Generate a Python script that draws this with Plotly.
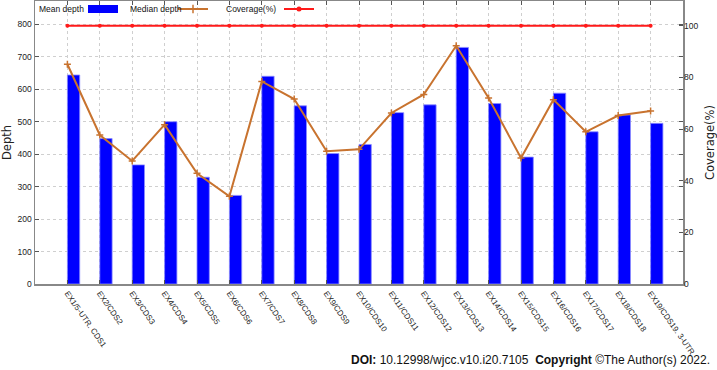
import plotly.graph_objects as go

categories = ["EX1/5-UTR. CDS1", "EX2/CDS2", "EX3/CDS3", "EX4/CDS4", "EX5/CDS5", "EX6/CDS6",
              "EX7/CDS7", "EX8/CDS8", "EX9/CDS9", "EX10/CDS10", "EX11/CDS11", "EX12/CDS12",
              "EX13/CDS13", "EX14/CDS14", "EX15/CDS15", "EX16/CDS16", "EX17/CDS17",
              "EX18/CDS18", "EX19/CDS19. 3-UTR"]
mean_depth = [644, 448, 367, 500, 329, 273, 640, 549, 402, 430, 528, 552, 729, 556, 391, 588, 469, 521, 495]
median_depth = [677, 459, 379, 491, 341, 270, 624, 570, 409, 415, 527, 584, 734, 573, 388, 568, 469, 519, 533]
coverage = [100] * 19
series_names = ["Mean depth", "Median depth", "Coverage(%)"]

idx = list(range(len(categories)))
FONT = "Liberation Sans"
TFONT = "DejaVu Sans"
BLUE, ORANGE, RED = "#0000ff", "#c8732f", "#ff1a1a"

W, H = 717, 370
L, R, T, B = 35, 34, 1, 86
PW, PH = W - L - R, H - T - B


def px_x(p):
    return (p - L) / PW


def px_y(p):
    return (H - B - p) / PH


fig = go.Figure()
fig.add_trace(go.Bar(x=idx, y=mean_depth, name=series_names[0], width=0.38, offset=0,
                     showlegend=False,
                     marker=dict(color=BLUE, line=dict(color="#8c8cff", width=0.8))))
fig.add_trace(go.Scatter(x=idx, y=median_depth, name=series_names[1], mode="lines+markers",
                         showlegend=False,
                         line=dict(color=ORANGE, width=2),
                         marker=dict(symbol="cross-thin", size=5, color=ORANGE,
                                     line=dict(color=ORANGE, width=1.5))))
fig.add_trace(go.Scatter(x=idx, y=coverage, name=series_names[2], mode="lines+markers", yaxis="y2",
                         showlegend=False,
                         line=dict(color=RED, width=2),
                         marker=dict(symbol="circle", size=4, color=RED)))

# legend keys (symbol only; labels drawn as text to the left of each key, as in the original)
fig.add_trace(go.Scatter(x=[None], y=[None], mode="lines", name="", legend="legend",
                         line=dict(color=BLUE, width=8), showlegend=True))
fig.add_trace(go.Scatter(x=[None], y=[None], mode="lines+markers", name="", legend="legend2",
                         line=dict(color=ORANGE, width=2),
                         marker=dict(symbol="cross-thin", size=6, color=ORANGE,
                                     line=dict(color=ORANGE, width=1.5)), showlegend=True))
fig.add_trace(go.Scatter(x=[None], y=[None], mode="lines+markers", name="", legend="legend3",
                         line=dict(color=RED, width=2),
                         marker=dict(symbol="circle", size=5, color=RED), showlegend=True))

leg_common = dict(orientation="h", xanchor="left", yanchor="middle", bgcolor="rgba(0,0,0,0)",
                  font=dict(size=9, family=FONT), itemwidth=30)
key_x = [83, 173, 279]
label_x = [37, 128, 224]
LEG_Y = 9

annotations = []
for name, lx in zip(series_names, label_x):
    annotations.append(dict(text=name, xref="paper", yref="paper", x=px_x(lx), y=px_y(LEG_Y),
                            xanchor="left", yanchor="middle", showarrow=False,
                            font=dict(size=8.5, family=FONT, color="#111")))
annotations.append(dict(text="<b>DOI:</b> 10.12998/wjcc.v10.i20.7105  <b>Copyright</b> ©The Author(s) 2022.",
                        xref="paper", yref="paper", x=px_x(712), y=px_y(360),
                        xanchor="right", yanchor="middle", showarrow=False,
                        font=dict(size=12, family="Liberation Sans", color="#111")))

fig.update_layout(
    width=W, height=H,
    margin=dict(l=L, r=R, t=T, b=B, autoexpand=False),
    plot_bgcolor="white", paper_bgcolor="white",
    font=dict(family=FONT, size=8, color="#222"),
    showlegend=True, hovermode=False,
    legend=dict(x=px_x(key_x[0]), y=px_y(LEG_Y), **leg_common),
    legend2=dict(x=px_x(key_x[1]), y=px_y(LEG_Y), **leg_common),
    legend3=dict(x=px_x(key_x[2]), y=px_y(LEG_Y), **leg_common),
    xaxis=dict(range=[-1, 19], tickmode="array", tickvals=idx, ticktext=categories,
               tickangle=55, ticks="inside", ticklen=4, tickcolor="#555", automargin=False,
               showline=True, linecolor="#888", linewidth=1.5, mirror="ticks",
               showgrid=True, gridcolor="#cfcfcf", griddash="dot", gridwidth=1,
               tickfont=dict(size=8, family=FONT), zeroline=False),
    yaxis=dict(range=[0, 872], tickmode="linear", tick0=0, dtick=100, automargin=False,
               ticks="inside", ticklen=4, tickcolor="#555",
               showline=True, linecolor="#888", linewidth=1.5, mirror="ticks",
               showgrid=True, gridcolor="#cfcfcf", griddash="dot", gridwidth=1,
               title=dict(text="Depth", font=dict(size=11.5, family=TFONT), standoff=4),
               tickfont=dict(size=8.5, family=FONT), zeroline=False),
    yaxis2=dict(range=[0, 109.6], overlaying="y", side="right", tickmode="linear", tick0=0, dtick=20,
                automargin=False,
                ticks="inside", ticklen=4, tickcolor="#555", showgrid=False, zeroline=False,
                title=dict(text="Coverage(%)", font=dict(size=11.5, family=TFONT), standoff=11),
                tickfont=dict(size=8.5, family=FONT)),
    annotations=annotations,
)

fig.write_html("out.html", config={"displayModeBar": False, "staticPlot": True},
               post_script="document.body.style.margin='0px';document.body.style.overflow='hidden';")
